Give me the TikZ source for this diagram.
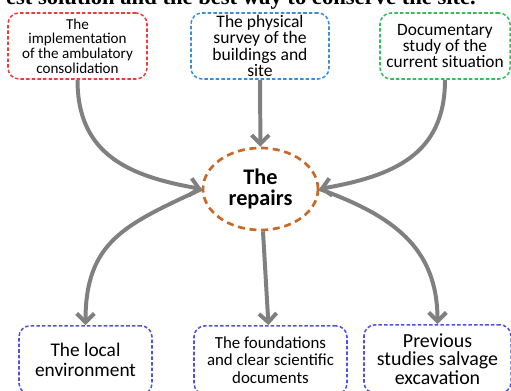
\documentclass[tikz,border=0pt]{standalone}
\usepackage{fontspec}
\setmainfont{Carlito}
\newfontfamily\headserif{Liberation Serif}
\usetikzlibrary{shapes,arrows.meta}
\definecolor{bx_red}{RGB}{238, 60, 60}
\definecolor{bx_blue}{RGB}{60, 140, 215}
\definecolor{bx_green}{RGB}{50, 190, 90}
\definecolor{bx_violet}{RGB}{80, 80, 225}
\definecolor{rp_orange}{RGB}{200, 105, 40}
\definecolor{ar_gray}{RGB}{128, 128, 128}
\tikzstyle{bx}=[rectangle,rounded corners=0.33cm,line width=1.3pt,
  dash pattern=on 3pt off 1.8pt,align=center,inner sep=0pt]
\tikzstyle{rb}=[bx,draw=bx_red,minimum width=4.17cm,minimum height=1.98cm]
\tikzstyle{bb}=[bx,draw=bx_blue,minimum width=4.14cm,minimum height=1.98cm]
\tikzstyle{gb}=[bx,draw=bx_green,minimum width=3.9cm,minimum height=1.98cm]
\tikzstyle{vb}=[bx,draw=bx_violet,minimum height=2.05cm]
\tikzstyle{rp}=[ellipse,draw=rp_orange,line width=2.3pt,dash pattern=on 6pt off 4pt,
  minimum width=3.45cm,minimum height=2.46cm,inner sep=0pt,align=center]
\tikzstyle{ar}=[draw=ar_gray,line width=3.4pt,-{Straight Barb[length=7.5pt,width=15pt]}]

\begin{document}
\begin{tikzpicture}[x=0.03cm,y=0.03cm]
    \useasboundingbox (0,0) rectangle (511,390);
    \clip (0,0) rectangle (511,390);
    \node [font=\headserif\bfseries\fontsize{19.3}{19}\selectfont,anchor=base east] (ttl) at (480,385)
      {est solution and the best way to conserve the site.};
    \node [style=rb,font=\fontsize{12.9}{12.5}\selectfont] (impl) at (77.5,344)
      {The\\implementation\\of the ambulatory\\consolidation};
    \node [style=bb,font=\fontsize{15}{14}\selectfont] (surv) at (260,344)
      {The physical\\survey of the\\buildings and\\site};
    \node [style=gb,font=\fontsize{14.8}{13.4}\selectfont] (docs) at (445,344)
      {Documentary\\study of the\\current situation};
    \node [style=rp,font=\bfseries\fontsize{19}{18}\selectfont] (rep) at (260.5,201)
      {The\\repairs};
    \node [style=vb,minimum width=3.99cm,font=\fontsize{16.5}{17}\selectfont] (env) at (85.5,30)
      {The local\\environment};
    \node [style=vb,minimum width=4.59cm,font=\fontsize{14.4}{15}\selectfont] (fnd) at (270.5,30)
      {The foundations\\and clear scientific\\documents};
    \node [style=vb,minimum width=4.41cm,font=\fontsize{17}{16}\selectfont] (prev) at (437.5,31)
      {Previous\\studies salvage\\excavation};
    \draw [style=ar] (impl) to[out=-90,in=170,looseness=1.15] (rep.west);
    \draw [style=ar] (surv) to (rep);
    \draw [style=ar] (docs) to[out=-90,in=10,looseness=1.15] (rep.east);
    \draw [style=ar] (rep.west) to[out=205,in=90,looseness=1.2] (env);
    \draw [style=ar] (rep) to (fnd);
    \draw [style=ar] (rep.east) to[out=-20,in=90,looseness=1.1] (prev);
\end{tikzpicture}
\end{document}
